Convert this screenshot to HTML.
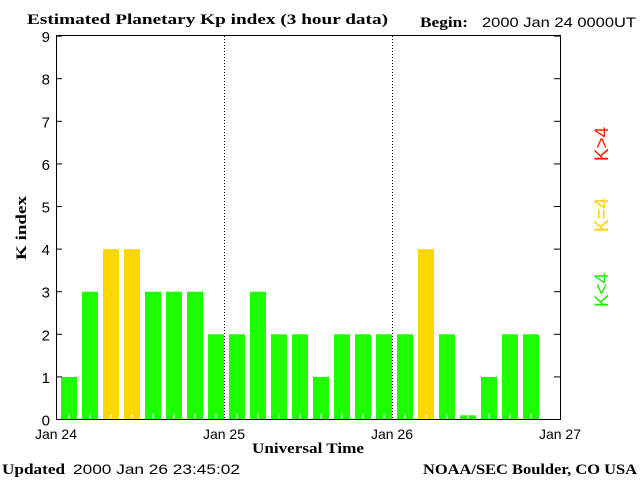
<!DOCTYPE html>
<html><head><meta charset="utf-8"><style>
body{margin:0;background:#fff}
svg text{font-family:"Liberation Sans",sans-serif}
.b{font-family:"Liberation Serif",serif;font-weight:bold}
</style></head><body>
<svg id="c" width="640" height="480" xmlns="http://www.w3.org/2000/svg">
<text class="b" x="27" y="24" font-size="15" textLength="361" lengthAdjust="spacingAndGlyphs">Estimated Planetary Kp index (3 hour data)</text>
<text class="b" x="420" y="27" font-size="15" textLength="48" lengthAdjust="spacingAndGlyphs">Begin:</text>
<text x="482" y="27" font-size="14" textLength="154" lengthAdjust="spacingAndGlyphs">2000 Jan 24 0000UT</text>
<g id="bars"></g>
<rect x="56.5" y="35.5" width="504" height="384" fill="none" stroke="#000"/>
<g id="axes"></g>
<text class="b" x="26" y="228" font-size="15" transform="rotate(-90 26 228)" text-anchor="middle" textLength="64" lengthAdjust="spacingAndGlyphs">K index</text>
<text class="b" x="308" y="453" font-size="15" text-anchor="middle" textLength="112" lengthAdjust="spacingAndGlyphs">Universal Time</text>
<text class="b" x="2" y="474" font-size="15" textLength="63" lengthAdjust="spacingAndGlyphs">Updated</text>
<text x="73" y="474" font-size="14" textLength="167" lengthAdjust="spacingAndGlyphs">2000 Jan 26 23:45:02</text>
<text class="b" x="423" y="474" font-size="15" textLength="214" lengthAdjust="spacingAndGlyphs">NOAA/SEC Boulder, CO USA</text>
<text x="608" y="290" font-size="19" fill="#22ee00" transform="rotate(-90 608 290)" text-anchor="middle">K&lt;4</text>
<text x="608" y="215" font-size="19" fill="#ffd200" transform="rotate(-90 608 215)" text-anchor="middle">K=4</text>
<text x="608" y="144" font-size="19" fill="#ff2000" transform="rotate(-90 608 144)" text-anchor="middle">K&gt;4</text>
</svg>
<script>
const kpValues=[1,3,4,4,3,3,3,2, 2,3,2,2,1,2,2,2, 2,4,2,0.1,1,2,2];
const yTicks=[0,1,2,3,4,5,6,7,8,9];
const dayLabels=["Jan 24","Jan 25","Jan 26","Jan 27"];
const NS="http://www.w3.org/2000/svg";
const x0=56,dayW=168,slotW=21;
const y=v=>419.5-v*42.6;
const xd=d=>x0+d*dayW;
const bars=document.getElementById('bars'),ax=document.getElementById('axes');
function mk(tag,attrs,parent){const e=document.createElementNS(NS,tag);for(const k in attrs)e.setAttribute(k,attrs[k]);parent.appendChild(e);return e;}
kpValues.forEach((v,i)=>{
  const col=v>4?"#ff2000":(v===4?"#ffd700":"#1eff00");
  const r=mk('rect',{x:x0+i*slotW+5,y:y(v),width:16,height:419.5-y(v),fill:col},bars);
  
  
  const t=mk('line',{x1:x0+i*slotW+13,x2:x0+i*slotW+13,y1:414,y2:419,stroke:"#fff"},bars);
  
  
});
yTicks.forEach(v=>{
  const l=mk('line',{x1:56,x2:62,y1:y(v),y2:y(v),stroke:"#000"},ax);
  
  
  const l2=mk('line',{x1:554,x2:560,y1:y(v),y2:y(v),stroke:"#000"},ax);
  
  
  const t=mk('text',{x:50,y:y(v)+6,"font-size":15,"text-anchor":"end"},ax);
  t.textContent=v;
  
  
});
dayLabels.forEach((d,i)=>{
  const t=mk('text',{x:xd(i),y:439,"font-size":14,"text-anchor":"middle"},ax);
  t.textContent=d;
  
  
  if(i>0&&i<dayLabels.length-1){
    const l=mk('line',{x1:xd(i)+0.5,x2:xd(i)+0.5,y1:36,y2:419,stroke:"#000","stroke-dasharray":"1,2"},ax);
    
    
  }
});
</script>
</body></html>
